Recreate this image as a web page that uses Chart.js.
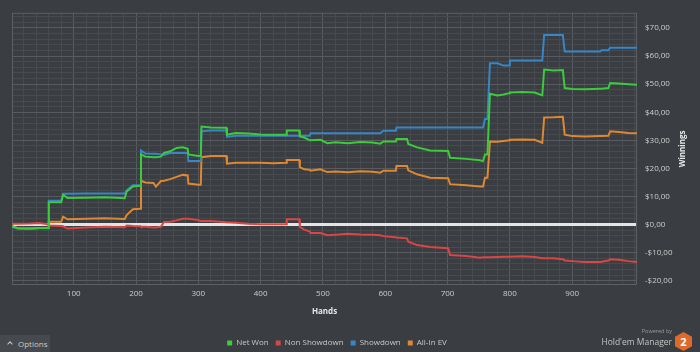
<!DOCTYPE html>
<html>
<head>
<meta charset="utf-8">
<script src="https://cdn.jsdelivr.net/npm/chart.js@4.4.0/dist/chart.umd.min.js"></script>
<style>
  body { margin: 0; background: #3a3d41; }
  #wrap { position: relative; width: 700px; height: 352px; background: #3a3d41; }
  #opts { position: absolute; left: 0; top: 335px; width: 50px; height: 17px; background: #46494d;
          color: #c9c9c9; font: 8px "Open Sans"; line-height: 17px; }
  #opts .chev { position: absolute; left: 8px; top: 7px; width: 3px; height: 3px;
                border-left: 1px solid #c9c9c9; border-top: 1px solid #c9c9c9; transform: rotate(45deg); }
  #opts .txt { position: absolute; left: 18px; top: 0; }
  #pw { position: absolute; right: 28px; top: 327px; color: #9a9a9a; font: 5.5px "Open Sans"; }
  #hm { position: absolute; right: 28px; top: 336px; color: #c4c4c4; font: 8.5px "Open Sans"; }
  #hex { position: absolute; left: 675px; top: 332px; width: 17px; height: 19px; background: #dd6a2a;
         clip-path: polygon(50% 0, 100% 25%, 100% 75%, 50% 100%, 0 75%, 0 25%);
         color: #fff; font: bold 11px "Open Sans"; line-height: 19px; text-align: center; }
</style>
</head>
<body>
<div id="wrap">
  <canvas id="myChart"></canvas>
  <div id="opts"><span class="chev"></span><span class="txt">Options</span></div>
  <div id="pw">Powered by</div>
  <div id="hm">Hold'em Manager</div>
  <div id="hex">2</div>
</div>
<script>
// hand numbers where the lines change
var hands = [1, 10, 30, 45, 59, 60, 80, 83, 90, 120, 150, 182, 185, 195, 207, 208, 215, 228, 232, 240,
  245, 255, 265, 275, 283, 284, 300, 304, 305, 320, 345, 346, 360, 380, 400, 420, 441, 442, 462, 463,
  470, 479, 480, 496, 507, 520, 540, 560, 580, 592, 597, 617, 618, 635, 637, 651, 672, 701, 704, 730,
  752, 757, 760, 764, 768, 780, 790, 799, 800, 820, 840, 852, 855, 870, 885, 888, 900, 920, 945, 947,
  958, 961, 975, 990, 1004];

var netWon = [-0.6, -1.3, -1.4, -1.2, -1.2, 8.0, 8.0, 10.6, 9.5, 9.6, 9.7, 9.4, 11.8, 13.6, 13.8, 25.0, 24.2, 24.0, 24.0, 24.2,
  25.5, 26.1, 27.3, 27.5, 27.0, 25.0, 24.4, 24.4, 34.9, 34.6, 34.5, 32.0, 32.6, 32.4, 32.1, 32.0, 32.0, 33.5, 33.5, 31.4,
  31.0, 30.0, 30.0, 30.2, 29.0, 29.3, 29.0, 29.4, 29.2, 28.8, 29.6, 29.6, 30.5, 30.5, 28.7, 27.5, 26.4, 26.2, 23.8, 23.4,
  22.9, 22.6, 25.0, 25.0, 46.6, 46.0, 46.3, 46.8, 47.0, 47.2, 47.0, 46.0, 55.2, 54.9, 55.0, 48.6, 48.3, 48.2, 48.4, 48.4,
  48.6, 50.4, 50.2, 50.0, 49.8];

var nonShowdown = [0.3, 0.3, 0.4, 0.6, 0.1, -0.3, -0.5, -0.6, -1.4, -1.0, -0.8, -0.9, -0.3, -0.5, -0.6, -0.8, -0.8, -1.0, -1.0, -0.8,
  0.9, 1.0, 1.5, 2.1, 2.1, 2.1, 1.6, 1.3, 1.3, 1.3, 0.8, 0.8, 0.7, 0.3, 0.1, 0.1, 0.1, 1.9, 1.9, -0.8,
  -1.8, -2.5, -3.0, -3.0, -3.8, -3.6, -3.3, -3.5, -3.6, -3.8, -4.1, -4.5, -4.6, -4.9, -6.1, -7.3, -8.0, -8.4, -10.8, -11.2,
  -11.8, -11.6, -11.6, -11.6, -11.6, -11.5, -11.4, -11.4, -11.4, -11.3, -11.5, -12.0, -12.0, -12.0, -12.3, -12.8, -13.0, -13.3, -13.3, -13.2,
  -12.8, -12.3, -12.5, -13.0, -13.3];

var showdown = [-0.8, -1.4, -1.5, -1.3, -1.3, 8.5, 8.5, 11.0, 11.0, 11.1, 11.1, 11.1, 12.2, 14.0, 14.0, 26.4, 25.3, 25.2, 25.2, 25.0,
  24.8, 25.5, 25.5, 25.5, 25.5, 22.6, 22.6, 22.6, 33.2, 33.5, 33.5, 31.2, 31.6, 31.6, 31.6, 31.6, 31.6, 31.6, 31.6, 31.6,
  31.6, 31.6, 32.5, 32.5, 32.5, 32.5, 32.5, 32.5, 32.5, 32.5, 33.4, 33.4, 34.6, 34.6, 34.6, 34.6, 34.6, 34.6, 34.6, 34.6,
  34.6, 34.6, 37.6, 37.6, 57.4, 57.4, 56.6, 56.6, 58.4, 58.4, 58.4, 58.4, 67.5, 67.5, 67.5, 61.6, 61.6, 61.6, 61.6, 62.1,
  62.1, 63.0, 63.0, 63.0, 63.0];

var allInEV = [-0.6, -1.3, -1.4, -1.2, -1.2, 1.0, 1.0, 2.8, 1.9, 2.1, 2.3, 2.0, 3.4, 5.5, 5.6, 15.6, 15.0, 14.8, 13.5, 15.5,
  15.6, 16.2, 17.0, 17.7, 17.5, 14.6, 14.2, 14.2, 24.0, 24.4, 24.4, 21.7, 22.0, 22.0, 22.0, 21.8, 22.0, 23.0, 23.0, 20.5,
  19.7, 19.5, 19.2, 19.7, 18.7, 18.9, 18.6, 19.0, 18.8, 18.5, 19.2, 19.2, 20.9, 20.9, 19.3, 17.9, 16.7, 16.5, 14.4, 14.0,
  13.6, 13.6, 16.7, 16.7, 29.6, 29.5, 29.8, 30.0, 30.2, 30.3, 30.2, 29.1, 38.1, 38.2, 38.4, 32.0, 31.5, 31.4, 31.5, 31.5,
  31.6, 33.2, 33.0, 32.6, 32.5];

var seriesNames = ['Net Won', 'Non Showdown', 'Showdown', 'All-In EV'];
var seriesColors = ['#3bcb3b', '#d84646', '#3786c6', '#de8831'];

// labelled ticks; grid lines in between every 20 hands / $2
var xLabelTicks = [100, 200, 300, 400, 500, 600, 700, 800, 900];
var yLabelTicks = [-20, -10, 0, 10, 20, 30, 40, 50, 60, 70];
var xGridStep = 20, yGridStep = 2;

var xGrid = [];
for (var v = xGridStep; v <= 1000; v += xGridStep) xGrid.push(v);
var yGrid = [];
for (var w = -20; w <= 74; w += yGridStep) yGrid.push(w);

function money(v) {
  return (v < 0 ? '-' : '') + '$' + Math.abs(v).toFixed(2).replace('.', ',');
}

Chart.defaults.font.family = '"Open Sans", sans-serif';
Chart.defaults.font.size = 8;

var majorGrid = '#585b5f', minorGrid = '#474a4e';

var extras = {
  id: 'extras',
  afterLayout: function(chart) {
    chart.legend.left -= 19; chart.legend.right -= 19;
    chart.legend.top += 5; chart.legend.bottom += 5;
  },
  beforeDatasetsDraw: function(chart) {
    var ctx = chart.ctx, a = chart.chartArea;
    ctx.save();
    ctx.strokeStyle = '#5c5f63';
    ctx.lineWidth = 1;
    ctx.strokeRect(a.left + 0.5, a.top + 0.5, a.right - a.left - 1, a.bottom - a.top - 1);
    ctx.restore();
  },
  afterDraw: function(chart) {
    var ctx = chart.ctx, a = chart.chartArea;
    ctx.save();
    ctx.fillStyle = '#e6e6e6';
    ctx.font = 'bold 8px "Open Sans"';
    ctx.textAlign = 'center';
    ctx.textBaseline = 'middle';
    ctx.fillText('Hands', (a.left + a.right) / 2, 312);
    ctx.translate(683, (a.top + a.bottom) / 2);
    ctx.rotate(-Math.PI / 2);
    ctx.fillText('Winnings', 0, 0);
    ctx.restore();
  }
};

var series = [netWon, nonShowdown, showdown, allInEV];
var datasets = series.map(function(vals, i) {
  return {
    label: seriesNames[i],
    data: hands.map(function(h, j) { return {x: h, y: vals[j]}; }),
    borderColor: seriesColors[i],
    backgroundColor: seriesColors[i],
    borderWidth: 2,
    pointRadius: 0,
    tension: 0
  };
});

var ctx = document.getElementById('myChart').getContext('2d');
var myChart = new Chart(ctx, {
  type: 'line',
  data: { datasets: datasets },
  plugins: [extras],
  options: {
    responsive: true,
    maintainAspectRatio: false,
    animation: false,
    layout: { padding: { left: 12, top: 10, right: 0, bottom: 0 } },
    plugins: {
      tooltip: { enabled: false },
      legend: {
        position: 'bottom',
        labels: {
          color: '#c8c8c8',
          boxWidth: 5,
          boxHeight: 5,
          padding: 7,
          font: { size: 8 },
          generateLabels: function(chart) {
            return Chart.defaults.plugins.legend.labels.generateLabels(chart).map(function(l) {
              l.lineWidth = 0;
              return l;
            });
          }
        }
      }
    },
    scales: {
      x: {
        type: 'linear',
        min: 1,
        max: 1004,
        afterBuildTicks: function(s) { s.ticks = xGrid.map(function(v) { return {value: v}; }); },
        afterFit: function(s) { s.height = 42; },
        border: { display: false },
        grid: {
          drawTicks: false,
          color: function(c) { return xLabelTicks.indexOf(c.tick.value) >= 0 ? majorGrid : minorGrid; }
        },
        ticks: {
          autoSkip: false,
          maxRotation: 0,
          padding: 4,
          color: '#cdcdcd',
          callback: function(v) { return xLabelTicks.indexOf(v) >= 0 ? String(v) : ''; }
        }
      },
      y: {
        position: 'right',
        min: -21.5,
        max: 75.4,
        afterBuildTicks: function(s) { s.ticks = yGrid.map(function(v) { return {value: v}; }); },
        afterFit: function(s) { s.width = 63; },
        border: { display: false },
        grid: {
          drawTicks: false,
          color: function(c) {
            if (c.tick.value === 0) return '#e4e4e4';
            return yLabelTicks.indexOf(c.tick.value) >= 0 ? majorGrid : minorGrid;
          },
          lineWidth: function(c) { return c.tick.value === 0 ? 3 : 1; }
        },
        ticks: {
          autoSkip: false,
          padding: 8,
          color: '#cdcdcd',
          callback: function(v) { return yLabelTicks.indexOf(v) >= 0 ? money(v) : ''; }
        }
      }
    }
  }
});
</script>
</body>
</html>
